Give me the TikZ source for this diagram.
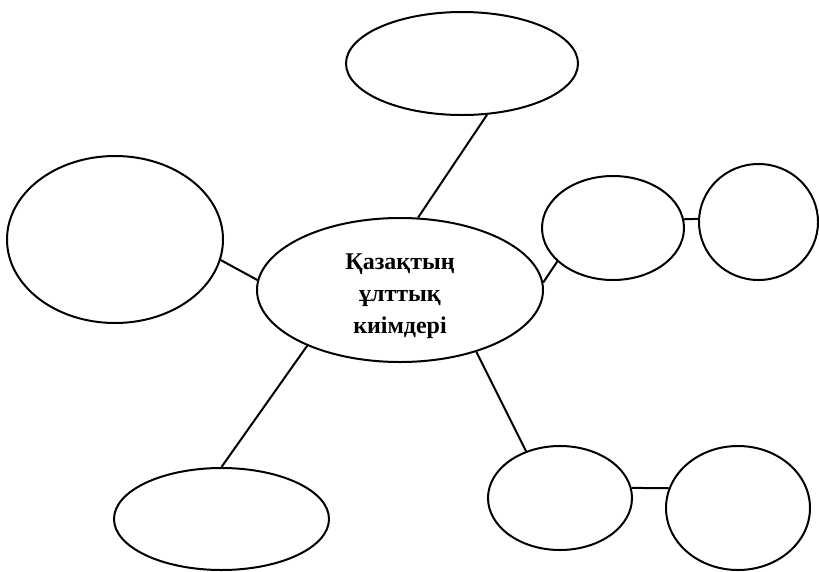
\documentclass[tikz,border=0pt]{standalone}
\usepackage{fontspec}
\setmainfont{Liberation Serif}
\usetikzlibrary{shapes.geometric}
\tikzset{
  bubble/.style={draw=black, ellipse, line width=2pt, inner sep=0pt},
  link/.style={draw=black, line width=2pt},
}
\begin{document}
\begin{tikzpicture}[x=1pt,y=-1pt]
\useasboundingbox (0,0) rectangle (819,571);
\node[bubble, minimum width=286pt, minimum height=144pt, align=center,
      text height=93pt,
      font=\fontsize{24}{32}\selectfont\bfseries] (C) at (400,290)
      {Қазақтың\\ұлттық\\киімдері};
\node[bubble, minimum width=232pt, minimum height=103pt] (T) at (462,63.5) {};
\node[bubble, minimum width=216pt, minimum height=167pt] (L) at (115,239.5) {};
\node[bubble, minimum width=215pt, minimum height=102pt] (BL) at (221.5,519) {};
\node[bubble, minimum width=142pt, minimum height=104pt] (R1) at (613,228) {};
\node[bubble, minimum width=119pt, minimum height=116pt] (R2) at (758.5,222) {};
\node[bubble, minimum width=144pt, minimum height=104pt] (BR1) at (560,498) {};
\node[bubble, minimum width=144pt, minimum height=124pt] (BR2) at (738,508) {};
\draw[link] (C.76.7) -- (T.296.8);
\draw[link] (C.176.8) -- (L.-11.5);
\draw[link] (C.211) -- (BL.90);
\draw[link] (C.-39) -- (BR1.126.5);
\draw[link] (C.3.7) -- (R1.211);
\draw[link] (R1.7) -- (R2.177);
\draw[link] (BR1.8) -- (BR2.164.5);
\end{tikzpicture}
\end{document}
